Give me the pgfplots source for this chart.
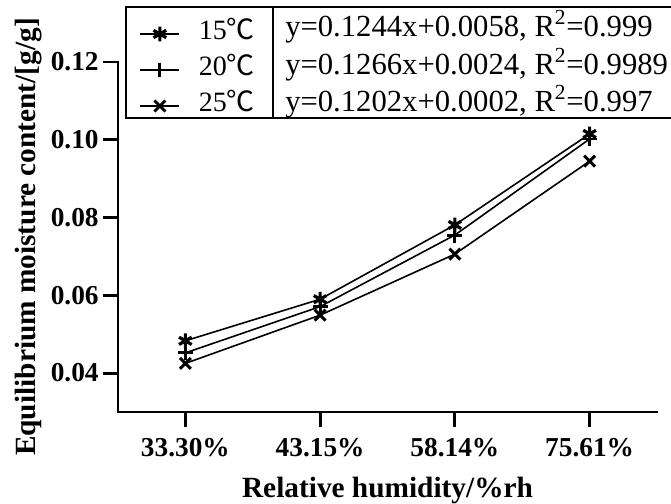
\documentclass[border=0pt]{standalone}
\usepackage{fontspec}
\setmainfont{Liberation Serif}
\newfontfamily\cjk{Noto Sans CJK SC}
\usepackage{pgfplots}
\pgfplotsset{compat=1.18}
\usetikzlibrary{calc}

% equilibrium moisture content at three temperatures
\pgfplotstableread{
x t15 t20 t25
0 0.0483 0.0452 0.0425
1 0.0590 0.0571 0.0549
2 0.0781 0.0755 0.0706
3 0.1015 0.1002 0.0945
}\emcdata

\begin{document}
\begin{tikzpicture}
\begin{axis}[
  name=ax,
  scale only axis,
  width=404.25pt, height=262.5pt,
  xmin=-0.5, xmax=3.5, ymin=0.03, ymax=0.12,
  axis line style={draw=none},
  xtick pos=bottom, ytick pos=left,
  xtick={0,1,2,3},
  xticklabels={33.30\%,43.15\%,58.14\%,75.61\%},
  ytick={0.04,0.06,0.08,0.10,0.12},
  yticklabel style={/pgf/number format/fixed, /pgf/number format/fixed zerofill,
    /pgf/number format/precision=2},
  /pgf/number format/assume math mode=true,
  ticklabel style={font=\fontsize{20.5}{20.5}\selectfont\bfseries},
  xticklabel style={yshift=-5pt},
  tick align=outside,
  major tick length=11pt,
  every tick/.append style={line width=2.2pt, black},
  xlabel={Relative humidity/\%rh},
  ylabel={Equilibrium moisture content/[g/g]},
  label style={font=\fontsize{22}{22}\selectfont\bfseries},
  xlabel style={yshift=-8.5pt},
  clip=false,
  legend image code/.code={
    \draw[mark repeat=2, mark phase=2, #1] plot coordinates {(0pt,0pt) (14.6pt,0pt) (29.25pt,0pt)};},
  legend style={draw=none, fill=none, at={(0,1)}, anchor=west,
    xshift=16pt, yshift=-6pt,
    font=\fontsize{21}{21}\selectfont, inner sep=0pt, row sep=0pt,
    column sep=14pt,
    nodes={inner sep=0pt, text height=18pt, text depth=9pt}},
  legend cell align=left,
]
\addplot[black, line width=1.2pt, mark=asterisk, mark size=5.5pt,
  mark options={line width=2.4pt}] table[x=x, y=t15] {\emcdata};
\addlegendentry{15{\cjk ℃}}
\addplot[black, line width=1.2pt, mark=+, mark size=5.6pt,
  mark options={line width=2.2pt}] table[x=x, y=t20] {\emcdata};
\addlegendentry{20{\cjk ℃}}
\addplot[black, line width=1.2pt, mark=x, mark size=5.8pt,
  mark options={line width=2.2pt}] table[x=x, y=t25] {\emcdata};
\addlegendentry{25{\cjk ℃}}
\end{axis}

% axis lines (left and bottom only)
\draw[line width=2.2pt, line cap=rect] (ax.north west) -- (ax.south west) -- (ax.south east);

% legend frames and fitted equations
\draw[line width=1.3pt] ($(ax.north west)+(6pt,41.25pt)$) rectangle ($(ax.north west)+(116.25pt,-42pt)$);
\draw[line width=1.3pt] ($(ax.north west)+(116.25pt,41.25pt)$) rectangle ($(ax.north east)+(20pt,-42pt)$);
\begin{scope}[every node/.style={anchor=base west, inner sep=0pt, font=\fontsize{23}{23}\selectfont}]
\node at ($(ax.north west)+(125.25pt,19pt)$) {y=0.1244x+0.0058, R\textsuperscript{2}=0.999};
\node at ($(ax.north west)+(125.25pt,-9.5pt)$) {y=0.1266x+0.0024, R\textsuperscript{2}=0.9989};
\node at ($(ax.north west)+(125.25pt,-37.5pt)$) {y=0.1202x+0.0002, R\textsuperscript{2}=0.997};
\end{scope}

\pgfresetboundingbox
\path ($(ax.south west)+(-88.5pt,-69pt)$) rectangle ($(ax.north east)+(10.5pt,46.5pt)$);
\end{tikzpicture}
\end{document}
